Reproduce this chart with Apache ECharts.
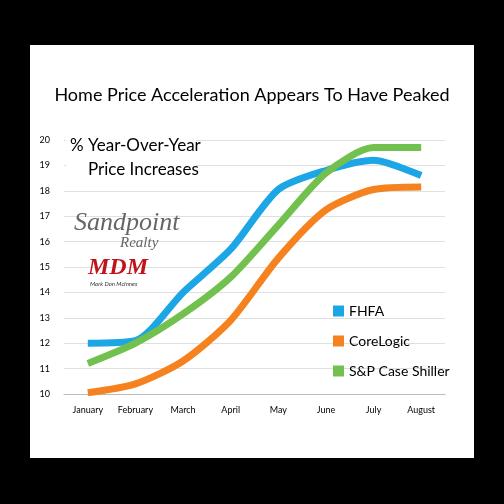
<!DOCTYPE html>
<html><head><meta charset="utf-8">
<script src="https://cdn.jsdelivr.net/npm/echarts@6/dist/echarts.min.js"></script>
<style>
html,body{margin:0;padding:0;background:#000;}
#bg{position:absolute;left:30px;top:45px;width:444px;height:413px;background:#fff;}
#c{position:absolute;left:0;top:0;width:504px;height:504px;}
</style></head><body>
<div id="bg"></div><div id="c"></div>
<script>
const categories = ['January','February','March','April','May','June','July','August'];
const fhfa = [12.0, 12.1, 14.0, 15.7, 18.05, 18.8, 19.2, 18.6];
const coreLogic = [10.05, 10.4, 11.3, 12.9, 15.35, 17.25, 18.05, 18.15];
const caseShiller = [11.2, 12.0, 13.15, 14.6, 16.65, 18.7, 19.7, 19.7];
const yTicks = [10, 20, 1];

const chart = echarts.init(document.getElementById('c'));
const font = 'Lato';
function ser(name, data, color){
  return {name, type:'line', data, smooth:0.25, symbol:'none',
    lineStyle:{width:7,color}, itemStyle:{color}};
}
chart.setOption({
  backgroundColor:'transparent',
  animation:false,
  title:{text:'Home Price Acceleration Appears To Have Peaked', left:'center', top:81,
    textStyle:{fontFamily:font, fontSize:18, fontWeight:'normal', color:'#000'}},
  legend:{orient:'vertical', left:328, top:299, itemGap:16, itemWidth:11, itemHeight:11, icon:'rect',
    textStyle:{fontFamily:font, fontSize:14, color:'#000'},
    data:['FHFA','CoreLogic','S&P Case Shiller']},
  grid:{left:64, right:59, top:140, bottom:110},
  xAxis:{type:'category', data:categories, boundaryGap:true,
    axisLine:{lineStyle:{color:'#bbb'}}, axisTick:{show:false},
    axisLabel:{fontFamily:font, fontSize:9, color:'#000', margin:12}},
  yAxis:{type:'value', min:yTicks[0], max:yTicks[1], interval:yTicks[2],
    axisLine:{show:false}, axisTick:{show:false},
    splitLine:{lineStyle:{color:'#e0e0e0'}},
    axisLabel:{fontFamily:font, fontSize:9, color:'#000', margin:14}},
  graphic:[
    {type:'rect', left:66, top:134, shape:{width:130,height:52}, style:{fill:'#fff'}, z:10},
    {type:'text', left:70, top:137, z:11, style:{text:'% Year-Over-Year', fontFamily:font, fontSize:17, fill:'#000'}},
    {type:'text', left:88, top:161, z:11, style:{text:'Price Increases', fontFamily:font, fontSize:17, fill:'#000'}},
    {type:'text', left:74, top:210, z:11, style:{text:'Sandpoint', fontFamily:'Liberation Serif', fontStyle:'italic', fontSize:26, fill:'#666'}},
    {type:'text', left:120, top:236, z:11, style:{text:'Realty', fontFamily:'Liberation Serif', fontStyle:'italic', fontSize:15, fill:'#666'}},
    {type:'text', left:88, top:256, z:11, style:{text:'MDM', fontFamily:'Liberation Serif', fontStyle:'italic', fontWeight:'bold', fontSize:24, fill:'#c0141c'}},
    {type:'text', left:90, top:281, z:11, style:{text:'Mark Don McInnes', fontFamily:font, fontStyle:'italic', fontSize:6, fill:'#333'}}
  ],
  series:[
    ser('FHFA', fhfa, '#1ca6e6'),
    ser('CoreLogic', coreLogic, '#f5821f'),
    ser('S&P Case Shiller', caseShiller, '#72c14f')
  ]
});
</script></body></html>
